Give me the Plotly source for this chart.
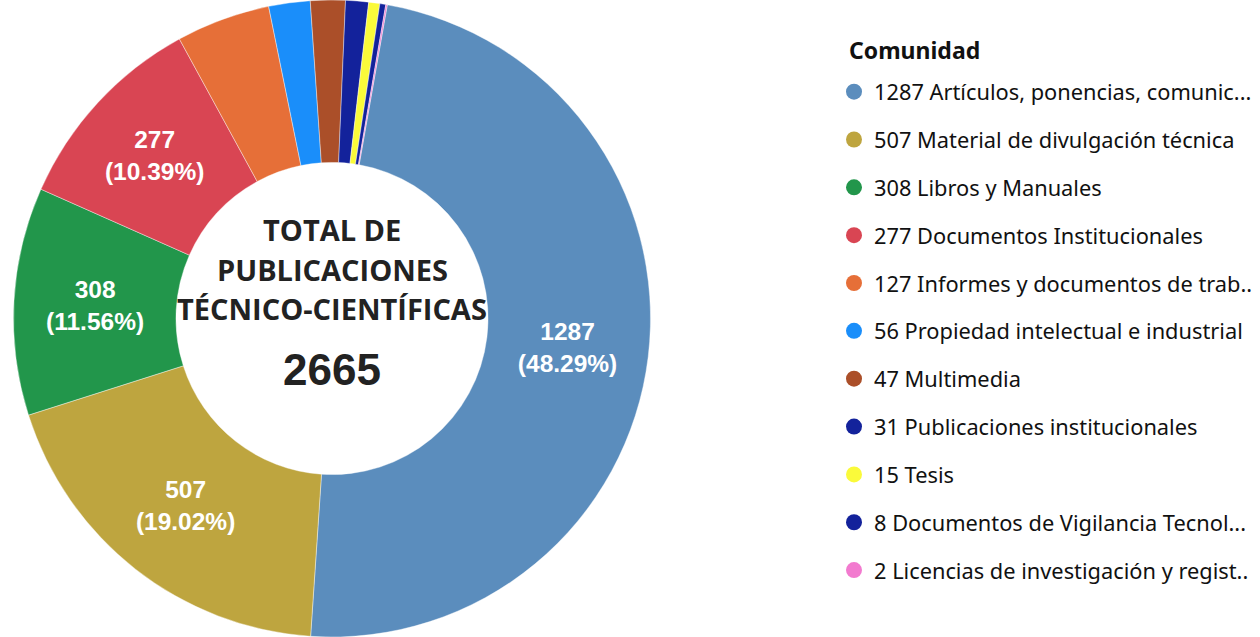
import plotly.graph_objects as go

categories = [
    "Artículos, ponencias, comunic...",
    "Material de divulgación técnica",
    "Libros y Manuales",
    "Documentos Institucionales",
    "Informes y documentos de trab..",
    "Propiedad intelectual e industrial",
    "Multimedia",
    "Publicaciones institucionales",
    "Tesis",
    "Documentos de Vigilancia Tecnol...",
    "Licencias de investigación y regist..",
]
values = [1287, 507, 308, 277, 127, 56, 47, 31, 15, 8, 2]
colors = ["#5B8DBD", "#BEA53F", "#22964B", "#D94553", "#E66F38", "#1A8EFA",
          "#AB4F29", "#13229B", "#FAFA3A", "#13229B", "#F27ACF"]
show_label = [True, True, True, True, False, False, False, False, False, False, False]
center_title = ["TOTAL DE", "PUBLICACIONES", "TÉCNICO-CIENTÍFICAS"]
legend_title = "Comunidad"

total = sum(values)
legend_names = [f"{v} {c}" for v, c in zip(values, categories)]
templates = ["%{value}<br>(%{percent:.2%})" if s else "" for s in show_label]

W, H = 1260, 637
cx, r = 332, H / 2

fig = go.Figure()
fig.add_trace(go.Pie(
    labels=legend_names,
    values=values,
    sort=False,
    direction="clockwise",
    rotation=10,
    hole=0.49,
    marker=dict(colors=colors, line=dict(color="white", width=0.4)),
    texttemplate=templates,
    textposition="inside",
    insidetextorientation="horizontal",
    textfont=dict(family="Liberation Sans, Arial", size=24.5, color="white", weight="bold"),
    domain=dict(x=[(cx - r) / W, (cx + r) / W], y=[0, 1]),
    showlegend=False,
    hoverinfo="label+percent",
))

for i, (name, col) in enumerate(zip(legend_names, colors)):
    fig.add_trace(go.Scatter(
        x=[None], y=[None], mode="markers",
        marker=dict(symbol="circle", size=16, color=col),
        name=name, legendgroup=f"g{i}", showlegend=True,
    ))

fig.update_xaxes(visible=False)
fig.update_yaxes(visible=False)

ys = [229, 269, 308]
for t, y in zip(center_title, ys):
    fig.add_annotation(
        text=f"<b>{t}</b>", x=cx / W, y=1 - y / H, xref="paper", yref="paper",
        showarrow=False, xanchor="center", yanchor="middle",
        font=dict(family="Open Sans", size=29, color="#222222"),
    )
fig.add_annotation(
    text=f"<b>{total}</b>", x=cx / W, y=1 - 369 / H, xref="paper", yref="paper",
    showarrow=False, xanchor="center", yanchor="middle",
    font=dict(family="Liberation Sans, Arial", size=44, color="#222222"),
)
fig.add_annotation(
    text=f"<b>{legend_title}</b>", x=847 / W, y=1 - 50 / H, xref="paper", yref="paper",
    showarrow=False, xanchor="left", yanchor="middle",
    font=dict(family="Noto Sans", size=23, color="#111111"),
)

fig.update_layout(
    width=W, height=H,
    margin=dict(l=0, r=0, t=0, b=0),
    paper_bgcolor="white", plot_bgcolor="white",
    legend=dict(
        x=834 / W, y=1 - 71 / H, xanchor="left", yanchor="top",
        font=dict(family="Noto Sans", size=21.8, color="#111111"),
        tracegroupgap=16.5,
        itemclick=False, itemdoubleclick=False,
    ),
)

post = "document.body.style.margin='0';document.body.style.overflow='hidden';"
fig.write_html("out.html", config={"displayModeBar": False}, post_script=post)
